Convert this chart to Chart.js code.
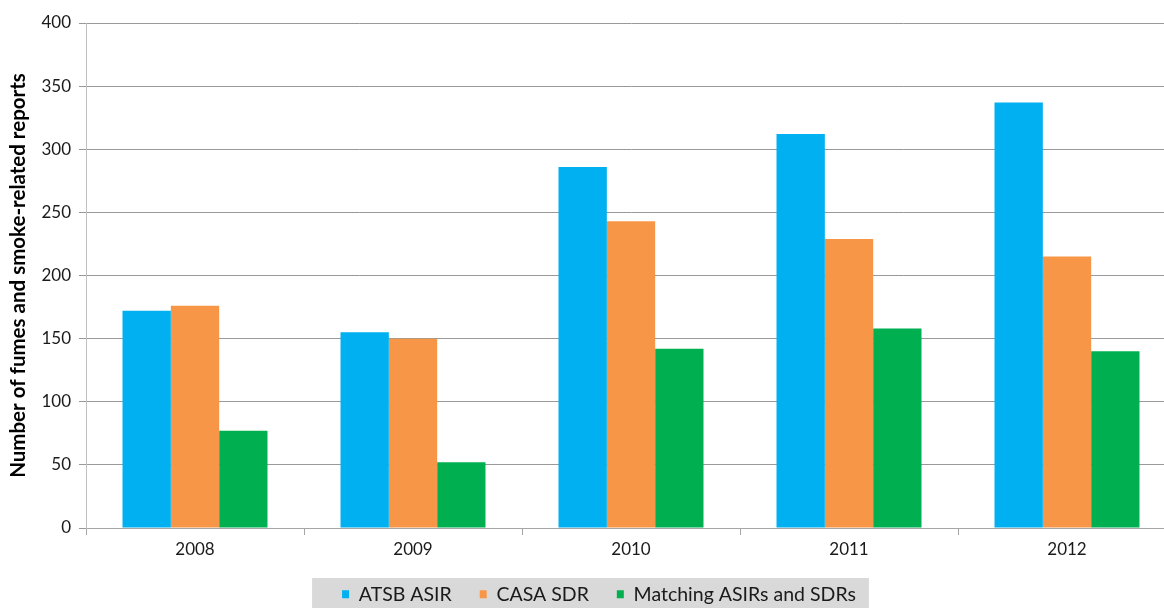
<!DOCTYPE html>
<html>
<head>
<meta charset="utf-8">
<script src="https://cdn.jsdelivr.net/npm/chart.js@4/dist/chart.umd.min.js"></script>
<style>
  html, body { margin: 0; padding: 0; background: #fff; overflow: hidden; }
  #wrap { width: 1176px; height: 614px; }
</style>
</head>
<body>
<div id="wrap"><canvas id="Graf"></canvas></div>
<script>
var aar = ["2008", "2009", "2010", "2011", "2012"];
var atsb = [172, 155, 286, 312, 337];
var casa = [176, 150, 243, 229, 215];
var matching = [77, 52, 142, 158, 140];
var yTicks = [0, 50, 100, 150, 200, 250, 300, 350, 400];

var skrift = "Lato, 'Open Sans', sans-serif";
var mellemrum = "    "; // widens the gap after the first two legend entries

// grey strip behind the legend items
var legendBaggrund = {
    id: "legendBaggrund",
    beforeDraw: function (chart) {
        var lg = chart.legend;
        if (!lg || !lg.legendHitBoxes || !lg.legendHitBoxes.length) return;
        var boxes = lg.legendHitBoxes;
        var sidste = boxes[boxes.length - 1];
        var venstre = boxes[0].left - 30;
        var hoejre = sidste.left + sidste.width + 13;
        var ctx = chart.ctx;
        ctx.save();
        ctx.fillStyle = "#d9d9d9";
        ctx.fillRect(venstre, 578, hoejre - venstre, 36);
        ctx.restore();
    }
};

new Chart("Graf", {
    type: "bar",
    data: {
        labels: aar,
        datasets: [{
            label: "ATSB ASIR",
            data: atsb,
            backgroundColor: "#00b0f0"
        }, {
            label: "CASA SDR",
            data: casa,
            backgroundColor: "#f79646"
        }, {
            label: "Matching ASIRs and SDRs",
            data: matching,
            backgroundColor: "#00b050"
        }]
    },
    plugins: [legendBaggrund],
    options: {
        responsive: true,
        maintainAspectRatio: false,
        animation: false,
        layout: { padding: { left: 22, top: 23, right: 0, bottom: 0 } },
        datasets: {
            bar: { categoryPercentage: 0.665, barPercentage: 1.0 }
        },
        plugins: {
            tooltip: { enabled: false },
            legend: {
                position: "bottom",
                labels: {
                    boxWidth: 7,
                    boxHeight: 8,
                    padding: 8,
                    color: "#1a1a1a",
                    font: { family: skrift, size: 19.5 },
                    generateLabels: function (chart) {
                        var items = Chart.defaults.plugins.legend.labels.generateLabels(chart);
                        items.forEach(function (it, i) {
                            if (i < items.length - 1) it.text = it.text + mellemrum;
                        });
                        return items;
                    }
                }
            }
        },
        scales: {
            x: {
                afterFit: function (s) { s.height = 48.5; },
                grid: {
                    offset: true,
                    drawOnChartArea: false,
                    drawTicks: true,
                    tickLength: 7,
                    color: "#a6a6a6"
                },
                border: { color: "#a6a6a6" },
                ticks: {
                    color: "#1a1a1a",
                    padding: 4,
                    font: { family: skrift, size: 17 }
                }
            },
            y: {
                min: 0,
                max: 400,
                afterFit: function (s) { s.width = 64; },
                afterBuildTicks: function (s) {
                    s.ticks = yTicks.map(function (v) { return { value: v }; });
                },
                grid: {
                    color: "#999999",
                    tickLength: 7
                },
                border: { color: "#bfbfbf" },
                ticks: {
                    color: "#1a1a1a",
                    padding: 8,
                    font: { family: skrift, size: 17 }
                },
                title: {
                    display: true,
                    text: "Number of fumes and smoke-related reports",
                    color: "#000",
                    padding: { top: -16, bottom: 0 },
                    font: { family: skrift, size: 20.5, weight: "bold" }
                }
            }
        }
    }
});
</script>
</body>
</html>
